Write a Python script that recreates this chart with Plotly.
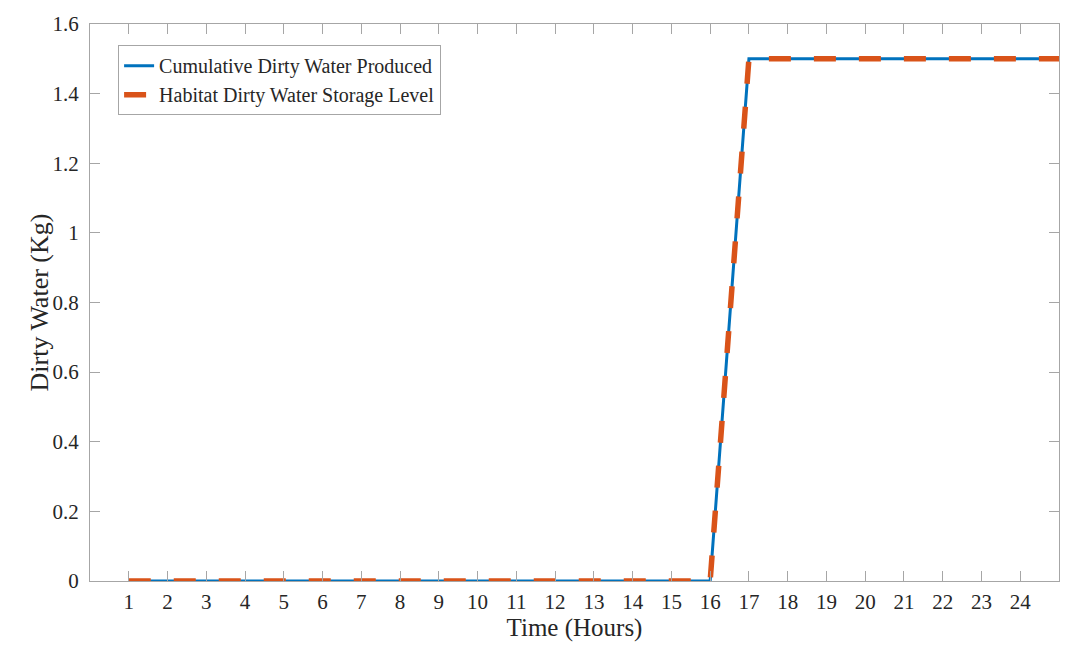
import plotly.graph_objects as go

hours = list(range(1, 26))
produced = [0]*16 + [1.5]*9
storage = [0]*16 + [1.5]*9
x_ticks = list(range(1, 25))
y_ticks = [0, 0.2, 0.4, 0.6, 0.8, 1, 1.2, 1.4, 1.6]

fig = go.Figure()
fig.add_trace(go.Scatter(x=hours, y=produced, mode="lines", name="Cumulative Dirty Water Produced",
                         line=dict(color="#0072BD", width=3)))
fig.add_trace(go.Scatter(x=hours, y=storage, mode="lines", name="Habitat Dirty Water Storage Level",
                         line=dict(color="#D95319", width=5.5, dash="22px,23px")))

axcommon = dict(showgrid=False, zeroline=False, showline=True, linecolor="#a6a6a6", linewidth=1,
                mirror="ticks", ticks="inside", ticklen=10, tickcolor="#a6a6a6",
                tickfont=dict(family="Liberation Serif", size=21, color="#262626"))

fig.update_layout(
    width=1065, height=653,
    margin=dict(l=90, r=6, t=24, b=72),
    paper_bgcolor="white", plot_bgcolor="white",
    font=dict(family="Liberation Serif", color="#262626"),
    xaxis=dict(range=[0, 25], tickvals=x_ticks, ticklabelstandoff=2,
               title=dict(text="Time (Hours)", font=dict(size=25), standoff=4), **axcommon),
    yaxis=dict(range=[0, 1.6], tickvals=y_ticks, ticktext=[f"{v:g}" for v in y_ticks], ticklabelstandoff=6,
               **axcommon),
    legend=dict(x=0.029, y=0.962, xanchor="left", yanchor="top", bgcolor="white",
                bordercolor="#a6a6a6", borderwidth=1,
                font=dict(family="Liberation Serif", size=20, color="#262626"),
                tracegroupgap=0, itemwidth=30),
    showlegend=True,
)
fig.add_annotation(text="Dirty Water (Kg)", textangle=-90, xref="paper", yref="paper",
                   x=-0.0516, y=0.5, xanchor="center", yanchor="middle", showarrow=False,
                   font=dict(family="Liberation Serif", size=26, color="#262626"))

fig.write_html("out.html")
